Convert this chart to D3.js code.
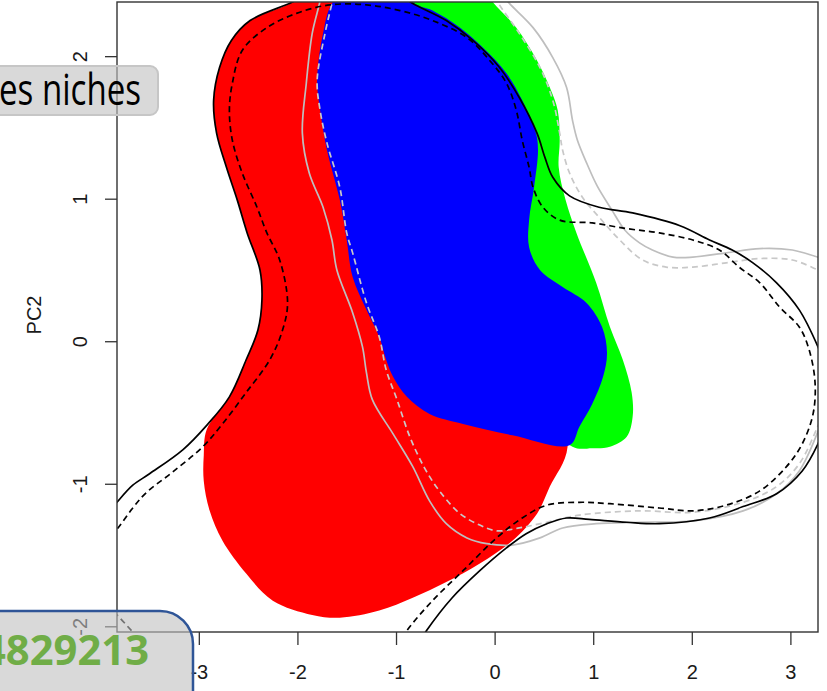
<!DOCTYPE html>
<html>
<head>
<meta charset="utf-8">
<script src="https://cdn.jsdelivr.net/npm/d3@7"></script>
<style>
  html, body { margin: 0; padding: 0; background: #fff; overflow: hidden; }
  svg { display: block; }
  .tick text { font-family: "Liberation Sans", Arial, sans-serif; font-size: 20px; fill: #1a1a1a; }
</style>
</head>
<body>
<svg id="chart" width="827" height="691"></svg>
<script>
// niche density regions (PC1, PC2)
const redRegion = [
  [-1.88, 2.50], [-2.05, 2.38], [-2.48, 2.25], [-2.67, 2.11], [-2.79, 1.92], [-2.85, 1.69],
  [-2.82, 1.46], [-2.72, 1.22], [-2.61, 0.99], [-2.51, 0.76], [-2.38, 0.50], [-2.36, 0.29],
  [-2.40, 0.08], [-2.52, -0.13], [-2.69, -0.39], [-2.92, -0.62], [-2.95, -0.80], [-2.95, -0.98],
  [-2.89, -1.19], [-2.76, -1.40], [-2.52, -1.63], [-2.25, -1.82], [-1.85, -1.92], [-1.57, -1.94],
  [-1.17, -1.89], [-0.83, -1.80], [-0.49, -1.69], [-0.15, -1.56], [0.18, -1.40], [0.43, -1.21],
  [0.56, -1.02], [0.74, -0.74], [0.51, -0.06], [0.05, 0.99], [-0.66, 1.97], [-1.17, 2.60]
];
const greenRegion = [
  [-0.25, 2.60], [-0.02, 2.38], [0.22, 2.20], [0.43, 1.97], [0.56, 1.78], [0.64, 1.62],
  [0.66, 1.41], [0.65, 1.22], [0.72, 0.99], [0.83, 0.76], [1.03, 0.41], [1.17, 0.10],
  [1.30, -0.13], [1.39, -0.36], [1.40, -0.53], [1.34, -0.67], [1.17, -0.74], [0.99, -0.75],
  [0.79, -0.74], [0.25, -0.27], [-0.25, 0.64], [-0.76, 1.69], [-0.96, 2.60]
];
const blueRegion = [
  [-1.27, 2.60], [-1.64, 2.38], [-1.74, 2.16], [-1.80, 1.83], [-1.77, 1.62], [-1.70, 1.34],
  [-1.57, 0.99], [-1.50, 0.71], [-1.44, 0.45], [-1.30, 0.22], [-1.17, 0.03], [-1.10, -0.13],
  [-1.03, -0.25], [-0.89, -0.39], [-0.66, -0.51], [-0.32, -0.58], [0.18, -0.66], [0.76, -0.73],
  [0.86, -0.60], [0.99, -0.44], [1.10, -0.25], [1.14, -0.08], [1.09, 0.10], [0.93, 0.27],
  [0.69, 0.38], [0.46, 0.50], [0.35, 0.66], [0.35, 0.85], [0.40, 1.08], [0.44, 1.34],
  [0.42, 1.46], [0.28, 1.69], [0.12, 1.88], [-0.12, 2.06], [-0.35, 2.20], [-0.63, 2.32],
  [-0.83, 2.38], [-0.96, 2.60]
];

// contour lines, each one split into the pieces that cross the plot window
const blackSolid = [
  [[-3.96, -1.24], [-3.83, -1.13], [-3.67, -1.01], [-3.50, -0.93], [-3.16, -0.76], [-2.92, -0.59],
   [-2.69, -0.39], [-2.52, -0.13], [-2.40, 0.08], [-2.36, 0.29], [-2.38, 0.50], [-2.51, 0.76],
   [-2.61, 0.99], [-2.72, 1.22], [-2.82, 1.46], [-2.85, 1.69], [-2.79, 1.92], [-2.67, 2.11],
   [-2.48, 2.25], [-2.05, 2.38], [-1.88, 2.45]],
  [[-0.96, 2.43], [-0.83, 2.37], [-0.49, 2.25], [-0.22, 2.11], [0.05, 1.92], [0.25, 1.71],
   [0.43, 1.46], [0.51, 1.29], [0.59, 1.15], [0.76, 1.02], [1.06, 0.94], [1.40, 0.90],
   [1.88, 0.81], [2.18, 0.71], [2.41, 0.64], [2.62, 0.55], [2.86, 0.41], [3.09, 0.22],
   [3.28, -0.04], [3.35, -0.17]],
  [[3.35, -0.59], [3.28, -0.72], [3.12, -0.91], [2.86, -1.07], [2.52, -1.16], [2.18, -1.24],
   [1.67, -1.28], [1.34, -1.27], [0.96, -1.25], [0.73, -1.24], [0.53, -1.28], [0.32, -1.35],
   [0.12, -1.45], [-0.15, -1.61], [-0.43, -1.80], [-0.69, -2.03], [-0.78, -2.13]]
];
const blackDashed = [
  [[-3.96, -1.42], [-3.82, -1.31], [-3.67, -1.17], [-3.53, -1.06], [-3.27, -0.92], [-2.96, -0.74],
   [-2.76, -0.58], [-2.52, -0.36], [-2.28, -0.13], [-2.15, 0.08], [-2.10, 0.27], [-2.18, 0.57],
   [-2.31, 0.76], [-2.41, 0.94], [-2.56, 1.18], [-2.66, 1.41], [-2.69, 1.62], [-2.66, 1.81],
   [-2.56, 2.04], [-2.31, 2.20], [-2.01, 2.30], [-1.67, 2.36], [-1.30, 2.36], [-0.96, 2.32],
   [-0.63, 2.25], [-0.28, 2.13], [-0.05, 1.97], [0.12, 1.81], [0.22, 1.62], [0.28, 1.41],
   [0.35, 1.22], [0.39, 1.08], [0.49, 0.94], [0.66, 0.85], [0.99, 0.83], [1.34, 0.79],
   [1.67, 0.76], [2.01, 0.71], [2.28, 0.64], [2.48, 0.52], [2.69, 0.41], [2.89, 0.24],
   [3.09, 0.10], [3.19, -0.06], [3.25, -0.29], [3.23, -0.51], [3.12, -0.72], [2.96, -0.88],
   [2.69, -1.05], [2.35, -1.15], [2.01, -1.19], [1.67, -1.17], [1.17, -1.14], [0.86, -1.13],
   [0.53, -1.15], [0.28, -1.24], [0.02, -1.38], [-0.32, -1.61], [-0.63, -1.82], [-0.89, -2.03],
   [-0.98, -2.13]],
  [[-4.01, -1.80], [-3.83, -1.92], [-3.67, -2.04], [-3.52, -2.15]]
];
const graySolid = [
  [[-1.76, 2.45], [-1.77, 2.39], [-1.85, 2.16], [-1.91, 1.81], [-1.95, 1.46], [-1.88, 1.18],
   [-1.74, 0.94], [-1.65, 0.71], [-1.60, 0.50], [-1.44, 0.20], [-1.34, -0.04], [-1.30, -0.22],
   [-1.24, -0.41], [-1.03, -0.65], [-0.83, -0.88], [-0.66, -1.12], [-0.49, -1.28], [-0.28, -1.38],
   [-0.08, -1.42], [0.18, -1.43], [0.46, -1.38], [0.69, -1.31], [1.03, -1.28], [1.47, -1.27],
   [2.01, -1.26], [2.52, -1.19], [2.86, -1.07], [3.09, -0.91], [3.27, -0.65], [3.32, -0.55]],
  [[3.35, 0.58], [3.28, 0.59], [3.02, 0.64], [2.69, 0.65], [2.35, 0.62], [2.01, 0.59],
   [1.81, 0.59], [1.60, 0.64], [1.47, 0.69], [1.32, 0.78], [1.19, 0.92], [1.04, 1.09],
   [0.94, 1.24], [0.84, 1.41], [0.79, 1.55], [0.73, 1.78], [0.59, 1.99], [0.39, 2.20],
   [0.15, 2.37], [0.08, 2.43]]
];
const grayDashed = [
  [[-1.63, 2.43], [-1.65, 2.37], [-1.72, 2.16], [-1.80, 1.83], [-1.77, 1.62], [-1.70, 1.39],
   [-1.57, 1.08], [-1.50, 0.76], [-1.44, 0.62], [-1.30, 0.27], [-1.17, 0.03], [-1.10, -0.20],
   [-0.99, -0.41], [-0.86, -0.67], [-0.71, -0.89], [-0.56, -1.05], [-0.35, -1.21], [-0.15, -1.29],
   [0.02, -1.33], [0.25, -1.31], [0.53, -1.27], [0.86, -1.22], [1.47, -1.19], [2.01, -1.20],
   [2.52, -1.13], [2.86, -1.02], [3.09, -0.86], [3.27, -0.61], [3.32, -0.52]],
  [[3.35, 0.48], [3.28, 0.50], [3.02, 0.57], [2.69, 0.58], [2.35, 0.55], [2.01, 0.52],
   [1.74, 0.52], [1.50, 0.57], [1.27, 0.71], [1.06, 0.87], [0.89, 1.01], [0.76, 1.18],
   [0.69, 1.34], [0.66, 1.46], [0.59, 1.69], [0.46, 1.92], [0.25, 2.16], [0.05, 2.36],
   [0.00, 2.43]]
];

const xTicks = [-3, -2, -1, 0, 1, 2, 3];
const yTicks = [-2, -1, 0, 1, 2];
const yTitle = "PC2";
const topNote = "es niches";
const bottomNote = "4829213";

const plot = {left: 117, top: 2, right: 818, bottom: 632};

const svg = d3.select("#chart");

const x = d3.scaleLinear().domain([-3.83, 3.28]).range([plot.left, plot.right]);
const y = d3.scaleLinear().domain([-2.04, 2.38]).range([plot.bottom, plot.top]);

svg.append("defs").append("clipPath")
    .attr("id", "plot-clip")
  .append("rect")
    .attr("x", plot.left)
    .attr("y", plot.top)
    .attr("width", plot.right - plot.left)
    .attr("height", plot.bottom - plot.top);

const area = d3.line()
    .x(d => x(d[0]))
    .y(d => y(d[1]))
    .curve(d3.curveCatmullRomClosed.alpha(0.5));

const contour = d3.line()
    .x(d => x(d[0]))
    .y(d => y(d[1]))
    .curve(d3.curveCatmullRom.alpha(0.5));

const g = svg.append("g").attr("clip-path", "url(#plot-clip)");

// filled niches: red under green under blue
[[redRegion, "#ff0000"], [greenRegion, "#00ff00"], [blueRegion, "#0000ff"]].forEach(([pts, col]) => {
    g.append("path")
        .attr("d", area(pts))
        .attr("fill", col)
        .attr("stroke", "none");
});

function drawContour(pieces, col, dash) {
    g.selectAll(null)
        .data(pieces)
        .enter().append("path")
        .attr("d", d => contour(d))
        .attr("fill", "none")
        .attr("stroke", col)
        .attr("stroke-width", 1.7)
        .attr("stroke-dasharray", dash);
}

drawContour(graySolid, "#bebebe", null);
drawContour(grayDashed, "#c8c8c8", "6,4");
drawContour(blackSolid, "#000", null);
drawContour(blackDashed, "#000", "6,4");

// axes (R style: plain hyphen minus)
const fmt = d => String(d);

const xAxis = svg.append("g")
    .attr("transform", `translate(0,${plot.bottom})`)
    .call(d3.axisBottom(x).tickValues(xTicks).tickSize(13).tickPadding(20).tickFormat(fmt));

const yAxis = svg.append("g")
    .attr("transform", `translate(${plot.left},0)`)
    .call(d3.axisLeft(y).tickValues(yTicks).tickSize(12).tickFormat(fmt));

[xAxis, yAxis].forEach(a => {
    a.select(".domain").remove();
    a.selectAll(".tick line").attr("stroke", "#333").attr("stroke-width", 1.3);
});

yAxis.selectAll(".tick text")
    .attr("x", null)
    .attr("dy", null)
    .attr("text-anchor", "middle")
    .attr("transform", "translate(-30,0) rotate(-90)");

svg.append("text")
    .attr("transform", `translate(41,${(plot.top + plot.bottom) / 2 - 2}) rotate(-90)`)
    .attr("text-anchor", "middle")
    .style("font-family", "'Liberation Sans', Arial, sans-serif")
    .style("font-size", "20px")
    .attr("fill", "#1a1a1a")
    .text(yTitle);

svg.append("rect")
    .attr("x", plot.left)
    .attr("y", plot.top)
    .attr("width", plot.right - plot.left)
    .attr("height", plot.bottom - plot.top)
    .attr("fill", "none")
    .attr("stroke", "#333")
    .attr("stroke-width", 1.4);

// slide callouts sitting over the plot
svg.append("rect")
    .attr("x", -12)
    .attr("y", 66)
    .attr("width", 170)
    .attr("height", 49)
    .attr("rx", 8)
    .attr("fill", "#bfbfbf")
    .attr("fill-opacity", 0.6)
    .attr("stroke", "#c6c6c6")
    .attr("stroke-width", 2);

svg.append("text")
    .attr("x", -1)
    .attr("y", 105)
    .attr("textLength", 142)
    .attr("lengthAdjust", "spacingAndGlyphs")
    .style("font-family", "'Open Sans', 'Noto Sans', sans-serif")
    .style("font-size", "43px")
    .attr("fill", "#000")
    .text(topNote);

const r = 33;
svg.append("path")
    .attr("d", `M-10,611 H${193 - r} A${r},${r} 0 0 1 193,${611 + r} V700 H-10 Z`)
    .attr("fill", "#bfbfbf")
    .attr("fill-opacity", 0.6)
    .attr("stroke", "#2f5597")
    .attr("stroke-width", 2.5);

svg.append("text")
    .attr("x", -18)
    .attr("y", 665)
    .attr("textLength", 167)
    .attr("lengthAdjust", "spacingAndGlyphs")
    .style("font-family", "'Open Sans', 'Noto Sans', sans-serif")
    .style("font-size", "42px")
    .style("font-weight", "bold")
    .attr("fill", "#70ad47")
    .text(bottomNote);
</script>
</body>
</html>
